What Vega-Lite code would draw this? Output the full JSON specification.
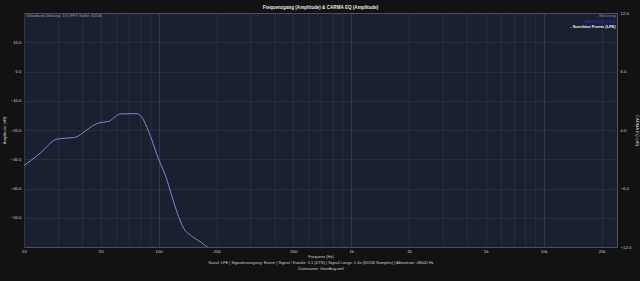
{
  "$schema": "https://vega.github.io/schema/vega-lite/v6.json",
  "width": 593,
  "height": 234,
  "autosize": {"type": "none"},
  "padding": {"left": 24, "top": 13, "right": 23, "bottom": 34},
  "background": "#121212",
  "title": {
    "text": "Frequenzgang (Amplitude) & CARMA EQ (Amplitude)",
    "color": "#e6e6e6",
    "fontSize": 4.6,
    "fontWeight": "bold",
    "font": "Liberation Sans",
    "offset": 1,
    "anchor": "middle"
  },
  "config": {
    "font": "Liberation Sans",
    "view": {"fill": "#1b2030", "stroke": "#4b505b", "strokeWidth": 1},
    "axis": {
      "labelColor": "#cfcfcf",
      "labelFontSize": 4.5,
      "titleColor": "#cfcfcf",
      "titleFontSize": 4.2,
      "titleFontWeight": "normal",
      "ticks": false,
      "domain": false,
      "gridColor": "#2c3240",
      "gridWidth": 0.8,
      "labelFlush": false
    }
  },
  "layer": [
    {
      "data": {
        "values": [
          {"f": 20, "db": -32.2},
          {"f": 24.3, "db": -27.9},
          {"f": 29.7, "db": -23.1},
          {"f": 33, "db": -22.8},
          {"f": 36.2, "db": -22.6},
          {"f": 38.4, "db": -22.0},
          {"f": 42.5, "db": -19.9},
          {"f": 44.9, "db": -18.8},
          {"f": 48.8, "db": -17.6},
          {"f": 55.0, "db": -17.1},
          {"f": 58.4, "db": -15.9},
          {"f": 63.2, "db": -14.5},
          {"f": 77.2, "db": -14.4},
          {"f": 82.0, "db": -15.7},
          {"f": 88.7, "db": -20.5},
          {"f": 94.2, "db": -25.1},
          {"f": 98.0, "db": -28.5},
          {"f": 102, "db": -31.3},
          {"f": 108.3, "db": -35.4},
          {"f": 119.6, "db": -44.5},
          {"f": 127, "db": -49.6},
          {"f": 134.9, "db": -53.6},
          {"f": 146.1, "db": -55.9},
          {"f": 164.5, "db": -58.2},
          {"f": 178.3, "db": -59.9},
          {"f": 197, "db": -61.8}
        ]
      },
      "mark": {"type": "line", "color": "#8085d8", "strokeWidth": 1, "clip": true, "interpolate": "monotone"},
      "encoding": {
        "x": {
          "field": "f",
          "type": "quantitative",
          "scale": {"type": "log", "domain": [20, 24000], "nice": false},
          "axis": {
            "values": [20, 30, 40, 50, 60, 70, 80, 90, 100, 200, 300, 400, 500, 600, 700, 800, 900, 1000, 2000, 3000, 4000, 5000, 6000, 7000, 8000, 9000, 10000, 20000],
            "labelExpr": "indexof([20,50,100,200,500,1000,2000,5000,10000,20000], datum.value) >= 0 ? (datum.value >= 1000 ? (datum.value/1000) + 'k' : datum.value + '') : ''",
            "labelOverlap": false,
            "labelFlush": false,
            "labelPadding": 2,
            "labelFontSize": 4.3,
            "gridColor": {"condition": {"test": "datum.value == 100 || datum.value == 1000 || datum.value == 10000", "value": "#3a4050"}, "value": "#2a303e"},
            "title": ["Frequenz (Hz)", "", "Kanal: LFE  |  Signalerzeugung: Extern  |  Signal / Kanäle: 5.1 (DTS)  |  Signal Länge: 1.4s (65536 Samples)  |  Abtastrate: 48000 Hz", "Dateiname: Goodbay.amf"],
            "titleLineHeight": 6.3,
            "titleFontSize": 4,
            "titlePadding": 1
          }
        },
        "y": {
          "field": "db",
          "type": "quantitative",
          "scale": {"domain": [-60, 20], "nice": false},
          "axis": {
            "values": [-50, -40, -30, -20, -10, 0, 10],
            "format": ".1f",
            "labelPadding": 3,
            "labelFontSize": 4.3,
            "title": "Amplitude (dB)",
            "titlePadding": 4
          }
        }
      }
    },
    {
      "data": {"values": [{"text": "Oktavband-Glättung: 1/3 | FFT Größe: 65536"}]},
      "mark": {"type": "text", "align": "left", "baseline": "middle", "fontSize": 3.8, "color": "#a0a0a0"},
      "encoding": {
        "x": {"datum": 20.5},
        "y": {"datum": 19.0, "scale": {"domain": [-60, 20], "nice": false}, "axis": null},
        "text": {"field": "text"}
      }
    },
    {
      "data": {"values": [{"v": 0}]},
      "mark": {"type": "rule", "opacity": 0},
      "encoding": {
        "y": {
          "field": "v",
          "type": "quantitative",
          "scale": {"domain": [-12, 12], "nice": false},
          "axis": {
            "orient": "right",
            "values": [-12, -6, 0, 6, 12],
            "format": ".1f",
            "grid": false,
            "labelPadding": 3,
            "labelFontSize": 4.3,
            "title": "CARMA EQ (dB)",
            "titlePadding": 4
          }
        }
      }
    },
    {
      "data": {
        "values": [
          {"series": "Messung", "label": "- Messung", "weight": "normal"},
          {"series": "CARMA EQ (LFE)", "label": "CARMA EQ (LFE)", "weight": "normal"},
          {"series": "Sunshine Fronts (LFE)", "label": "- Sunshine Fronts (LFE)", "weight": "bold"}
        ]
      },
      "transform": [{"filter": "datum.weight == 'normal'"}],
      "mark": {"type": "text", "align": "right", "baseline": "middle", "fontSize": 4},
      "encoding": {
        "x": {"datum": 23600},
        "y": {
          "field": "series",
          "type": "nominal",
          "scale": {"type": "point", "domain": ["Messung", "CARMA EQ (LFE)", "Sunshine Fronts (LFE)"], "range": [3.3, 14], "padding": 0},
          "axis": null
        },
        "color": {
          "field": "series",
          "type": "nominal",
          "scale": {"domain": ["Messung", "CARMA EQ (LFE)", "Sunshine Fronts (LFE)"], "range": ["#7d84c4", "#2a2ad8", "#f2f2f2"]},
          "legend": null
        },
        "text": {"field": "label"}
      }
    },
    {
      "data": {
        "values": [
          {"series": "Messung", "label": "- Messung", "weight": "normal"},
          {"series": "CARMA EQ (LFE)", "label": "CARMA EQ (LFE)", "weight": "normal"},
          {"series": "Sunshine Fronts (LFE)", "label": "- Sunshine Fronts (LFE)", "weight": "bold"}
        ]
      },
      "transform": [{"filter": "datum.weight == 'bold'"}],
      "mark": {"type": "text", "align": "right", "baseline": "middle", "fontSize": 4, "fontWeight": "bold"},
      "encoding": {
        "x": {"datum": 23600},
        "y": {
          "field": "series",
          "type": "nominal",
          "scale": {"type": "point", "domain": ["Messung", "CARMA EQ (LFE)", "Sunshine Fronts (LFE)"], "range": [3.3, 14], "padding": 0},
          "axis": null
        },
        "color": {
          "field": "series",
          "type": "nominal",
          "scale": {"domain": ["Messung", "CARMA EQ (LFE)", "Sunshine Fronts (LFE)"], "range": ["#7d84c4", "#2a2ad8", "#f2f2f2"]},
          "legend": null
        },
        "text": {"field": "label"}
      }
    }
  ],
  "resolve": {"scale": {"y": "independent", "color": "independent"}}
}
